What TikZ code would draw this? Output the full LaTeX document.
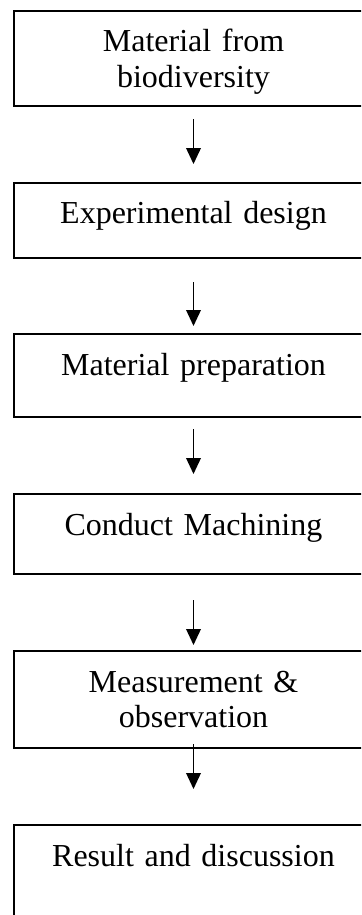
\documentclass[tikz,border=0pt]{standalone}
\usepackage{fontspec}
\setmainfont{Liberation Serif}
\usetikzlibrary{arrows.meta}
\usetikzlibrary{positioning}

\begin{document}
\begin{tikzpicture}
	[
	x=0.75pt, y=-0.75pt,
	> = {Triangle[length=12pt,width=11pt]},
	stage/.style = {draw, line width=1.5pt, anchor=north west, inner sep=0pt, text width=270pt, align=center, text height=30.75pt, font=\fontsize{24}{26.5}\selectfont},
	flow/.style = {->, line width=1.1pt}
	]
	\useasboundingbox (0,0) rectangle (361,915);
	\clip (0,0) rectangle (361,915);
	\node[stage, text depth=40.5pt] (bio) at (12.5,9.8) {Material from\\ biodiversity};
	\node[stage, text depth=25.9pt] (design) at (12.5,181.5) {Experimental design};
	\node[stage, text depth=31.5pt] (prep) at (12.5,333) {Material preparation};
	\node[stage, text depth=29.25pt] (mach) at (12.5,493) {Conduct Machining};
	\node[stage, text depth=42pt] (meas) at (12.5,650) {Measurement \&\\ observation};
	\node[stage, text depth=41.25pt] (res) at (12.5,824) {Result and discussion};
	\draw[flow, shorten <=9.2pt, shorten >=13.1pt] (bio.south) -- (design.north);
	\draw[flow, shorten <=17.25pt, shorten >=5.25pt] (design.south) -- (prep.north);
	\draw[flow, shorten <=8.25pt, shorten >=14.25pt] (prep.south) -- (mach.north);
	\draw[flow, shorten <=18.75pt, shorten >=3.75pt] (mach.south) -- (meas.north);
	\draw[flow, shorten <=-3.75pt, shorten >=26.25pt] (meas.south) -- (res.north);
\end{tikzpicture}
\end{document}
